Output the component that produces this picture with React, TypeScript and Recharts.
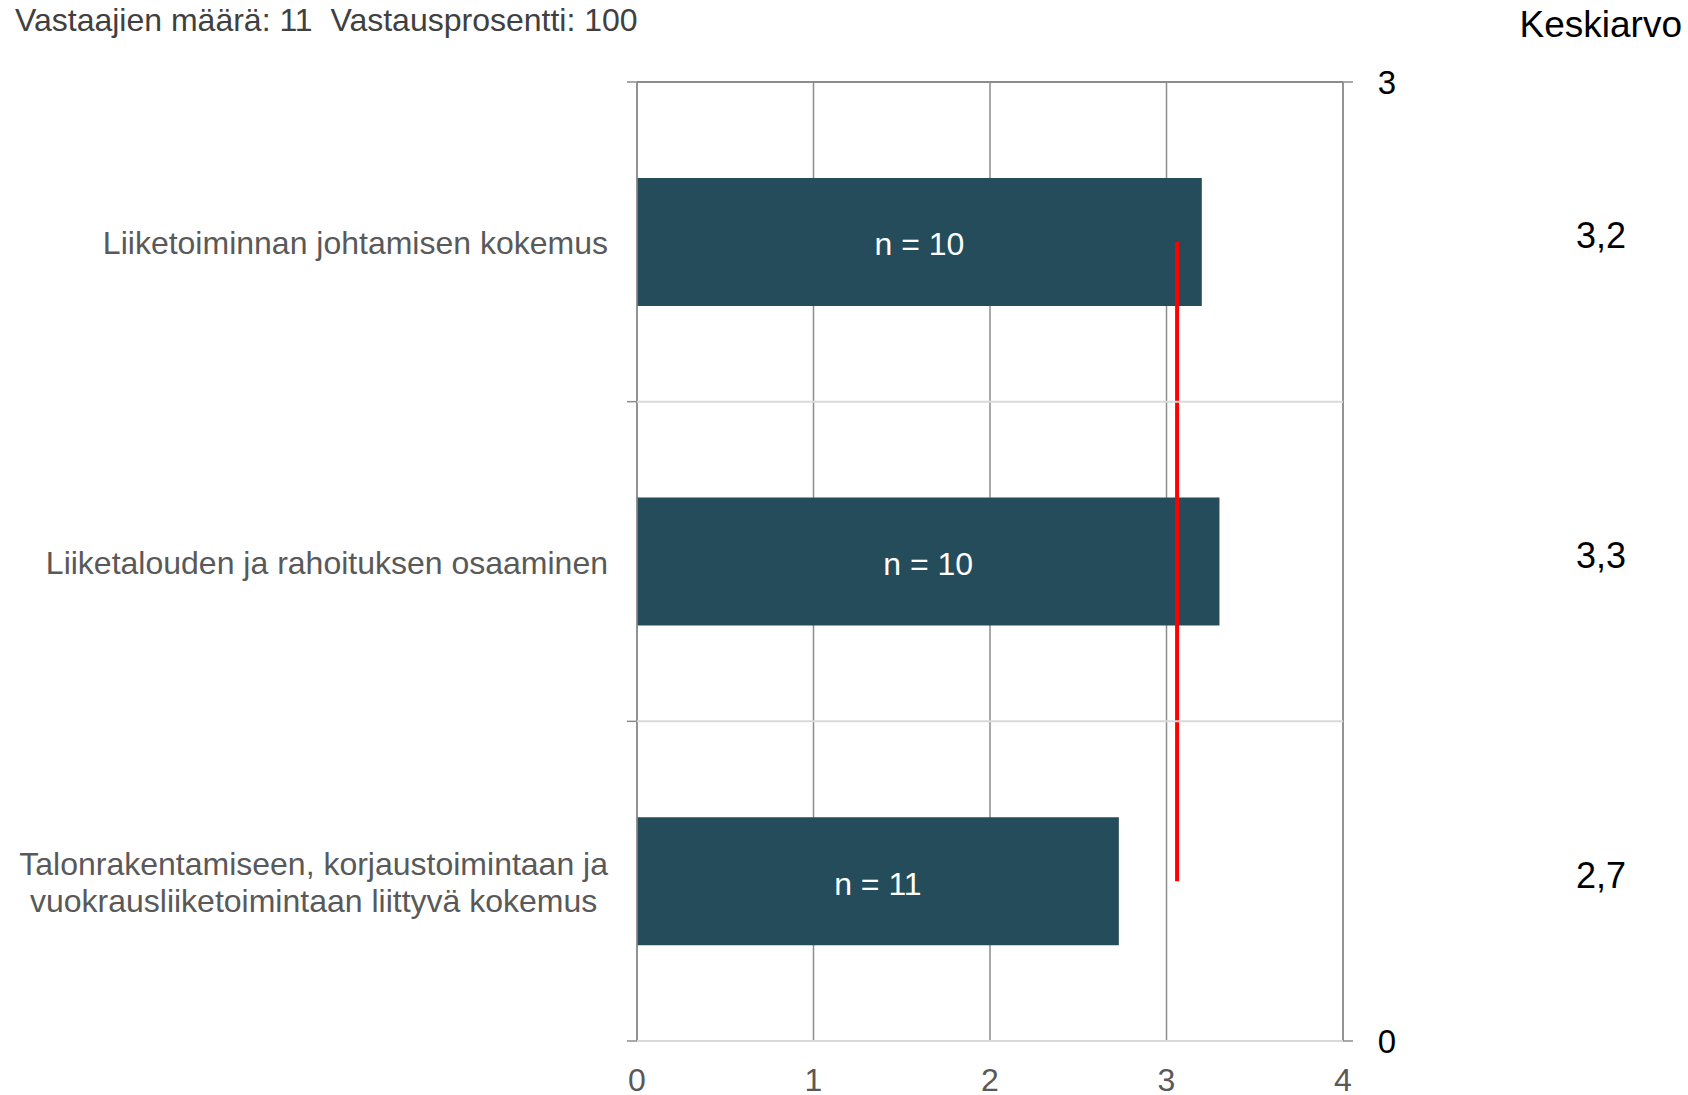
import {
  Bar,
  CartesianGrid,
  ComposedChart,
  LabelList,
  Line,
  XAxis,
  YAxis,
} from 'recharts'

const categories = [
  'Liiketoiminnan johtamisen kokemus',
  'Liiketalouden ja rahoituksen osaaminen',
  'Talonrakentamiseen, korjaustoimintaan ja\nvuokrausliiketoimintaan liittyvä kokemus',
]
const means = [3.2, 3.3, 2.73]
const counts = [10, 10, 11]
const overallMean = 3.06
const xTicks = [0, 1, 2, 3, 4]
// secondary scale labels shown at the top and bottom edge on the right
const secondaryTop = '3'
const secondaryBottom = '0'

const FONT = "Arial, 'Liberation Sans', sans-serif"
const WIDTH = 1688
const HEIGHT = 1095
const PLOT_LEFT = 637
const PLOT_RIGHT = 1343
const PLOT_TOP = 82
const PLOT_BOTTOM = 1041
const LABEL_RIGHT = 608
const MEAN_X = 1601
const GRID = '#8c8c8c'
const LIGHT = '#d9d9d9'

const data = categories.map((name, i) => ({
  name,
  mean: means[i],
  n: counts[i],
  overall: overallMean,
}))

const band = (PLOT_BOTTOM - PLOT_TOP) / categories.length

let measureCtx: CanvasRenderingContext2D | null = null
const textWidth = (s: string, size: number) => {
  if (!measureCtx) measureCtx = document.createElement('canvas').getContext('2d')
  if (!measureCtx) return s.length * size * 0.5
  measureCtx.font = `${size}px ${FONT}`
  return measureCtx.measureText(s).width
}

const CategoryTick = (props: any) => {
  const { y, payload, index } = props
  const lines: string[] = String(payload.value).split('\n')
  const size = 32
  const multi = lines.length > 1
  const maxW = Math.max(...lines.map((l) => textWidth(l, size)))
  const tx = multi ? LABEL_RIGHT - maxW / 2 : LABEL_RIGHT
  const top = y - band / 2
  const bottom = y + band / 2
  const last = index === categories.length - 1
  return (
    <g>
      {index > 0 && <line x1={PLOT_LEFT} x2={PLOT_RIGHT} y1={top} y2={top} stroke={LIGHT} strokeWidth={2} />}
      {last && <line x1={PLOT_LEFT} x2={PLOT_RIGHT} y1={bottom} y2={bottom} stroke={LIGHT} strokeWidth={2} />}
      <line x1={PLOT_LEFT - 10} x2={PLOT_LEFT} y1={top} y2={top} stroke={GRID} strokeWidth={1.5} />
      {last && <line x1={PLOT_LEFT - 10} x2={PLOT_LEFT} y1={bottom} y2={bottom} stroke={GRID} strokeWidth={1.5} />}
      {lines.map((l, i) => (
        <text
          key={i}
          x={tx}
          y={y + 1 + (i - (lines.length - 1) / 2) * 37}
          textAnchor={multi ? 'middle' : 'end'}
          dominantBaseline="central"
          fill="#595959"
          fontSize={size}
          fontFamily={FONT}
        >
          {l}
        </text>
      ))}
    </g>
  )
}

const EdgeLabel = ({ y, label }: { y: number; label: string }) => (
  <g>
    <line x1={PLOT_RIGHT} x2={PLOT_RIGHT + 10} y1={y} y2={y} stroke={GRID} strokeWidth={1.5} />
    <text x={PLOT_RIGHT + 44} y={y} textAnchor="middle" dominantBaseline="central" fill="#000" fontSize={33} fontFamily={FONT}>
      {label}
    </text>
  </g>
)

const MeanTick = (props: any) => {
  const { y, index } = props
  return (
    <g>
      {index === 0 && <EdgeLabel y={y - band / 2} label={secondaryTop} />}
      {index === categories.length - 1 && <EdgeLabel y={y + band / 2} label={secondaryBottom} />}
      <text x={MEAN_X} y={y - 6} textAnchor="middle" dominantBaseline="central" fill="#000" fontSize={36} fontFamily={FONT}>
        {means[index].toFixed(1).replace('.', ',')}
      </text>
    </g>
  )
}

const NoTick = () => <g />

const App = () => {
  return (
    <div style={{ position: 'absolute', left: 0, top: 0, width: WIDTH, height: HEIGHT, background: '#fff' }}>
      <ComposedChart
        width={WIDTH}
        height={HEIGHT}
        layout="vertical"
        data={data}
        barCategoryGap="30%"
        margin={{ top: PLOT_TOP - 1, right: 0, bottom: 0, left: 0 }}
        style={{ fontFamily: FONT }}
      >
        <CartesianGrid xAxisId="bottom" yAxisId="cat" vertical horizontal={false} stroke={GRID} strokeWidth={1.5} />
        <XAxis
          xAxisId="bottom"
          type="number"
          domain={[0, 4]}
          ticks={xTicks}
          height={54}
          axisLine={false}
          tickLine={false}
          tickSize={0}
          tickMargin={27}
          tick={{ fill: '#595959', fontSize: 32 }}
        />
        <XAxis
          xAxisId="top"
          orientation="top"
          type="number"
          domain={[0, 4]}
          ticks={xTicks}
          height={1}
          tick={NoTick}
          tickSize={9}
          axisLine={{ stroke: GRID, strokeWidth: 2 }}
          tickLine={{ stroke: GRID, strokeWidth: 1.5 }}
        />
        <YAxis
          yAxisId="cat"
          type="category"
          dataKey="name"
          width={PLOT_LEFT}
          interval={0}
          axisLine={{ stroke: GRID, strokeWidth: 1.5 }}
          tickLine={false}
          tick={CategoryTick}
        />
        <YAxis
          yAxisId="avg"
          orientation="right"
          type="category"
          dataKey="name"
          width={WIDTH - PLOT_RIGHT}
          interval={0}
          axisLine={{ stroke: GRID, strokeWidth: 1.5 }}
          tickLine={false}
          tick={MeanTick}
        />
        <Bar xAxisId="bottom" yAxisId="cat" dataKey="mean" fill="#244C5A" isAnimationActive={false}>
          <LabelList
            dataKey="n"
            position="center"
            formatter={(v: any) => `n = ${v}`}
            fill="#ffffff"
            fontSize={32}
            fontFamily={FONT}
            dy={2}
          />
        </Bar>
        <Line
          xAxisId="bottom"
          yAxisId="cat"
          dataKey="overall"
          stroke="#ff0000"
          strokeWidth={4}
          dot={false}
          activeDot={false}
          isAnimationActive={false}
        />
      </ComposedChart>
      <svg
        width={WIDTH}
        height={60}
        style={{ position: 'absolute', left: 0, top: 0, pointerEvents: 'none' }}
      >
        <text x={15} y={31} fill="#404040" fontSize={32} fontFamily={FONT} style={{ whiteSpace: 'pre' }}>
          Vastaajien määrä: 11{'\u00a0\u00a0'}Vastausprosentti: 100
        </text>
        <text x={1682} y={37} textAnchor="end" fill="#000" fontSize={37} fontFamily={FONT}>
          Keskiarvo
        </text>
      </svg>
    </div>
  )
}

export default App
